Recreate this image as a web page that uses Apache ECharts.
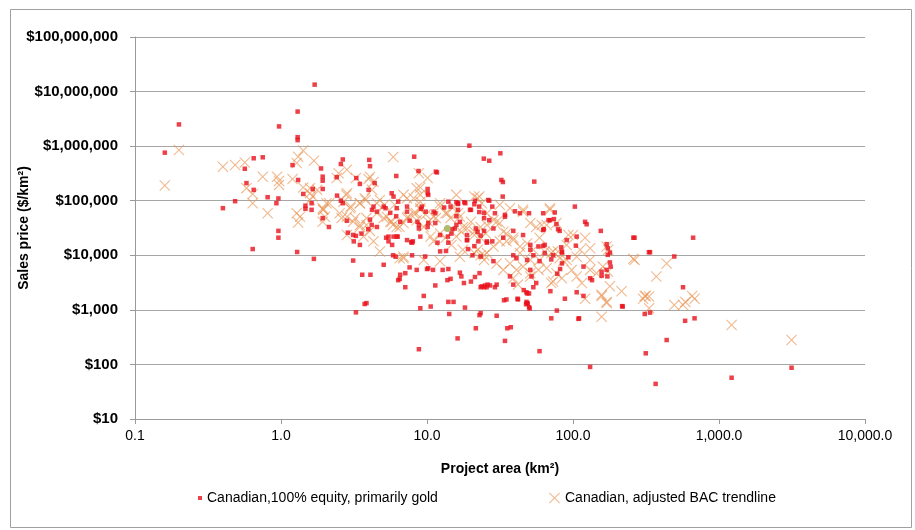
<!DOCTYPE html>
<html>
<head>
<meta charset="utf-8">
<script src="https://cdn.jsdelivr.net/npm/echarts@6/dist/echarts.min.js"></script>
<style>
  html, body { margin: 0; padding: 0; background: #fff; }
  #chart { width: 915px; height: 530px; }
</style>
</head>
<body>
<div id="chart"></div>
<script>
// series names (legend)
var goldName = 'Canadian,100% equity, primarily gold';
var trendName = 'Canadian, adjusted BAC trendline';

// red squares: [project area km2, sales price $/km2]
var goldPoints = [
  [1.7,13400000],[1.3,4300000],[0.2,2500000],[0.97,2300000],[1.3,1460000],[1.3,1290000],[0.16,760000],
  [19.5,1020000],[31.8,740000],[24.5,590000],[26.7,540000],[32.3,240000],[33.1,220000],[54.3,224000],
  [0.65,600000],[0.75,625000],[0.565,385000],[0.58,210000],[0.65,158000],[0.81,116000],[0.96,110000],
  [0.93,90000],[0.485,98000],[0.40,73000],[0.96,28000],[0.96,21000],[0.64,13000],[1.29,11500],[1.68,8600],
  [1.2,450000],[1.31,240000],[1.88,390000],[1.93,276000],[1.93,233000],[1.93,164000],[1.65,164000],
  [1.42,133000],[1.47,81000],[1.47,71000],[1.62,90000],[1.62,68000],[1.93,48000],[2.13,33000],[2.42,124000],
  [2.65,570000],[2.57,470000],[2.41,270000],[3.28,260000],[3.47,203000],[4.02,560000],[4.07,430000],
  [4.38,210000],[3.98,158000],[6.16,284000],[8.17,640000],[8.75,350000],[11.7,330000],[10.1,164000],
  [10.2,128000],[11.5,340000],[2.57,100000],[2.65,90000],[2.83,43000],[2.87,26000],[3.12,23600],
  [3.26,22700],[3.56,25000],[3.15,18000],[3.47,15500],[4.07,45000],[4.18,36000],[3.96,30000],[4.54,63000],
  [5.25,21000],[5.45,18000],[5.77,15500],[6.3,22000],[4.3,78000],[5.6,60000],[6.15,52000],[6.55,41000],
  [6.35,96000],[5.73,137000],[5.9,119000],[7.3,63000],[7.6,43000],[8.0,18000],[7.8,17400],[8.6,41000],
  [8.8,36000],[9.2,78000],[9.8,63000],[10.2,39000],[11.4,39000],[11.8,17000],[12.3,11800],[13.5,12000],
  [14,17000],[14.7,25000],[14.9,30000],[15.9,36000],[16.3,87000],[15.9,52000],[16.8,41000],
  [18.8,19000],[19.1,13000],[21.1,14700],[22.5,18000],[23.3,23000],[24.6,28000],[25.7,17000],[26.7,44000],
  [24.6,60000],[22.8,78000],[21.1,86000],[20,68000],[18.3,90000],[16.3,90000],
  [3.12,8000],[5.05,6700],[3.6,4400],[4.1,4400],[6.1,9400],[6.55,4400],[6.5,3700],[7.1,4700],[6.35,3500],
  [7.1,2600],[7.6,6000],[8.5,5400],[10,5600],[10.2,5800],[11,5400],[11.4,2800],[12.8,5400],[14,5600],
  [13.8,3500],[14.5,3700],[9.5,1800],[14,1400],[15.2,1400],[10.6,1150],[9.0,1070],[18.2,1100],[3.85,1330],
  [3.26,900],[14.2,840],[22.9,800],[16.8,4800],[17.2,4100],[17.9,3100],[20,3300],[21.3,4000],[22.9,4700],
  [24.6,2600],[25.6,2600],[23.3,2600],[26,2900],
  [33,119000],[26.7,100000],[103,78000],[29.2,59000],[34.2,55000],[40,64000],[50,59000],[43.3,59000],
  [75,61000],[69.5,44000],[77,37000],[81,28000],[62.5,29000],[121,41000],[124,37000],[155,28000],
  [259,21000],[337,11400],[170,16000],[173,13500],[179,11200],[173,10200],[179,7400],[181,6200],[170,5400],
  [157,5000],[172,4100],[157,4200],[106,22000],[104.6,15000],[90.5,19000],[92.9,9200],[83,14000],[84,7100],
  [81.6,5600],[78,4600],[71,8400],[84,11200],[64,11000],[62.5,14800],[58,14500],[51,12600],[53.5,10000],
  [39,10000],[118,6200],[131,3800],[135,3500],[106,2100],[118,1800],[51,5400],[52,4100],[56,3100],
  [53.5,2600],[46,2300],[48.5,2000],[37,4100],[39,2900],[30,2900],[27,2800],[23.7,2700],[25,2800],
  [29.2,2600],[35,1550],[41.7,1600],[48,1400],[49,1300],[33.7,1500],[23.3,870],[30,780],[50,1120],
  [71,700],[110,700],[217,1170],[310,840],[88,1600],
  [264,21000],[665,21000],[331,11400],[494,9500],[567,2600],[219,1150],[337,890],[586,630],[680,700],
  [438,280],[315,160],[368,44],[1220,57],[3140,87],
  [3.74,1280],[8.8,190],[21.6,460],[16.2,300],[35.5,460],[37.5,480],[34.2,270],[42,1550],[48,2100],
  [50,2000],[48.5,1330],[47.7,1270],[50.5,1060],[70,2200],[77.5,970],[59,175],[109,685],[131,90],
  [10.1,137000],[14,96000],[15.9,94000],[18,94000],[21.3,100000],[26.3,103000],[5.05,78000],[5.2,73000],
  [4.2,68000],[6.2,73000],[7.3,78000],[9.1,71000],[11.1,63000],[11.4,59000],[13.1,75000],[14.5,78000],
  [16.3,68000],[19.7,68000],[22.8,62000],[24.6,48000],[28,78000],[34.2,51000],[62.5,59000],[68,44000],
  [74,46000],[79,30000],[63,30000],[4.54,33000],[5.45,22000],[5.9,22000],[6.2,22000],[7.3,19000],
  [7.9,17000],[9.0,22000],[8.8,31000],[10.1,33000],[12.3,23500],[13.9,22000],[15.5,31000],[18.8,23500],
  [18.8,19000],[21.6,31000],[22.2,27000],[25.7,18000],[28,18000],[28.5,31000],[33.3,21000],[39,28000],
  [45.5,23500],[51,15500],[64,15500],[73,10000],[84,11700],[5.85,10000],[7.9,10000],[9.7,9500],
  [20.5,10000],[23.3,9500],[28.5,7800],[41,8800],[48.5,8200],[59,7800]
];

// orange crosses: [project area km2, sales price $/km2]
var trendPoints = [
  [0.2,850000],[0.16,190000],[0.40,420000],[0.485,450000],[0.565,500000],[0.75,275000],[0.94,275000],
  [0.97,195000],[0.97,230000],[0.58,170000],[0.64,133000],[0.64,90000],[0.81,59000],
  [1.42,830000],[1.31,640000],[1.28,490000],[1.68,540000],[1.2,250000],[1.42,174000],[1.58,137000],
  [1.65,119000],[1.58,103000],[1.28,59000],[1.31,40000],[1.93,73000],[1.93,41000],[2.14,90000],
  [2.41,260000],[2.83,370000],[2.83,137000],[3.26,260000],[3.98,250000],[5.87,630000],[8.8,320000],
  [9.0,175000],[10.1,260000],
  [2.8,128000],[3.0,78000],[3.47,90000],[3.8,103000],[4.54,90000],[4.75,103000],[5.1,84000],[2.52,59000],
  [2.83,51000],[3.12,41000],[3.47,33000],[3.85,36000],[4.07,28000],[3.67,22000],
  [5.3,51000],[5.73,41000],[6.2,33000],[6.9,39000],[7.4,51000],[8.1,59000],[9.0,68000],[8.5,44000],
  [9.5,33000],[10.6,22000],[11.1,18000],[12.3,25000],[13.4,21000],[14.7,15500],[15.9,22000],[17.2,27000],
  [18.8,31000],[21.1,27000],[23.3,33000],[25.3,25000],[22.3,12600],[24.6,10000],[16.8,9400],[17.6,12600],
  [6.9,8800],[6.5,8800],[21.1,119000],[22.8,119000],[9.0,96000],[8.1,111000],[6.9,128000],[6.0,84000],
  [11.1,51000],[12.3,78000],[13.8,59000],[15.3,78000],[16.3,59000],[4.07,276000],[4.3,220000],
  [2.05,90000],[1.94,68000],[2.48,320000],[1.58,170000],[1.95,68000],[2.0,51000],[1.35,51000],[1.77,158000],
  [45.5,63000],[51,39000],[56,33000],[69.5,68000],[77,39000],[93,23500],[100,23500],[121,21000],
  [131,13500],[112,12600],[106,9400],[90.5,8200],[79,11700],[71,11000],[64,11700],[59,8200],[51,8200],
  [43.3,11000],[39,19000],[35,25000],[31.5,18000],[28.5,14500],[25.7,11000],[24.6,8200],[30,7100],
  [37,7100],[41,5400],[45.5,6200],[51,4100],[58,5400],[66,5800],[71,3100],[77,4700],[84,3800],[98,5400],
  [106,4100],[115,3100],[131,5400],[145,4700],[160,6200],[174,5000],[179,2700],[170,1400],[157,1800],
  [215,2200],[259,8600],[310,1800],[302,1600],[157,750],[170,14500],[174,12600],[31.5,39000],
  [28.5,44000],[25.7,59000],[23.7,90000],[61,36000],
  [264,8200],[438,7100],[372,4100],[315,1800],[332,1750],[332,1070],[494,1230],[567,1230],[588,1400],
  [655,1800],[680,1600],[1220,530],[3140,280],
  [121,1600],[157,1900],[170,1330],[131,8200],[86,7900],[73,3300],[51,4700],[42,2900],[39,3800],[33.3,5400],
  [2.68,96000],[2.98,73000],[3.47,90000],[3.75,111000],[3.85,48000],[4.54,59000],[5.05,48000],[5.6,41000],
  [5.85,36000],[6.5,33000],[7.3,48000],[8.4,59000],[9.0,73000],[9.8,56000],[10.2,41000],[11.5,48000],
  [12.3,90000],[13.4,59000],[14.5,48000],[16.8,51000],[17.6,33000],[20,41000],[21.1,23500],[23.3,21000],
  [25.7,36000],[30,41000],[33.3,27000],[35,18000],[39,21000],[43.3,14500],[48.5,16500],[53.5,12600],
  [59,21000],[66,36000],[69.5,73000],[73,11700],[81,8800],[90.5,15500],[23.3,10000],[21.1,11000],
  [12.3,7800],[9.5,8200],[6.9,9400],[4.75,11700],[4.3,18000],[2.83,23500],[2.6,48000],[3.22,48000],
  [3.47,36000],[9.0,128000],[8.5,170000],[4.2,158000],[7.3,111000],[15.9,128000],[45.5,68000],
  [37,73000],[31.5,84000],[22.2,111000]
];

// a single highlighted point in the reference
var highlightPoints = [[13.8, 31000]];

// axis ranges (decades)
var xRange = [0.1, 10000];
var yRange = [10, 100000000];

var crossPath = 'path://M0,7L7,0L50,43L93,0L100,7L57,50L100,93L93,100L50,57L7,100L0,93L43,50Z';
var labelFont = 'Liberation Sans, Arial, sans-serif';

var chart = echarts.init(document.getElementById('chart'), null, { renderer: 'canvas' });

var option = {
  backgroundColor: '#fff',
  animation: false,
  textStyle: { fontFamily: labelFont, color: '#000' },
  graphic: [{
    type: 'rect',
    shape: { x: 10.5, y: 9.5, width: 901, height: 518 },
    style: { fill: 'none', stroke: '#a0a0a0', lineWidth: 1 },
    silent: true
  }],
  grid: { left: 135, right: 50, top: 37, bottom: 111, outerBoundsMode: 'none' },
  legend: [{
    data: [goldName],
    left: 193, bottom: 20,
    itemWidth: 4, itemHeight: 4,
    textStyle: { fontSize: 14, color: '#000', fontFamily: labelFont }
  }, {
    data: [trendName],
    left: 544, bottom: 20,
    itemWidth: 11, itemHeight: 11,
    textStyle: { fontSize: 14, color: '#000', fontFamily: labelFont }
  }],
  xAxis: {
    type: 'log',
    logBase: 10,
    min: xRange[0],
    max: xRange[1],
    name: 'Project area (km²)',
    nameLocation: 'middle',
    nameGap: 43,
    nameMoveOverlap: false,
    nameTextStyle: { fontSize: 14, fontWeight: 'bold', color: '#000' },
    axisLine: { show: true, lineStyle: { color: '#9a9a9a' } },
    axisTick: { show: true, length: 5, lineStyle: { color: '#9a9a9a' } },
    splitLine: { show: false },
    axisLabel: {
      fontSize: 14, color: '#000', margin: 10,
      formatter: function (v) {
        return Number(v).toLocaleString('en-US', { minimumFractionDigits: 1, maximumFractionDigits: 1 });
      }
    }
  },
  yAxis: {
    type: 'log',
    logBase: 10,
    min: yRange[0],
    max: yRange[1],
    name: 'Sales price ($/km²)',
    nameLocation: 'middle',
    nameGap: 104,
    nameMoveOverlap: false,
    nameTextStyle: { fontSize: 14, fontWeight: 'bold', color: '#000' },
    axisLine: { show: true, lineStyle: { color: '#9a9a9a' } },
    axisTick: { show: true, length: 5, lineStyle: { color: '#9a9a9a' } },
    splitLine: { show: true, lineStyle: { color: '#a6a6a6', width: 1 } },
    axisLabel: {
      fontSize: 15, fontWeight: 'bold', color: '#000', margin: 17,
      formatter: function (v) {
        return '$' + Math.round(v).toLocaleString('en-US');
      }
    }
  },
  series: [{
    name: trendName,
    type: 'scatter',
    data: trendPoints,
    symbol: crossPath,
    symbolSize: 11,
    itemStyle: { color: 'rgba(232,146,80,0.8)' },
    z: 2
  }, {
    name: goldName,
    type: 'scatter',
    data: goldPoints,
    symbol: 'rect',
    symbolSize: 4.5,
    itemStyle: { color: '#e8101a' },
    z: 3
  }, {
    name: 'highlight',
    type: 'scatter',
    data: highlightPoints,
    symbol: 'circle',
    symbolSize: 7,
    itemStyle: { color: '#9aab4c' },
    z: 4
  }]
};

chart.setOption(option);
</script>
</body>
</html>
